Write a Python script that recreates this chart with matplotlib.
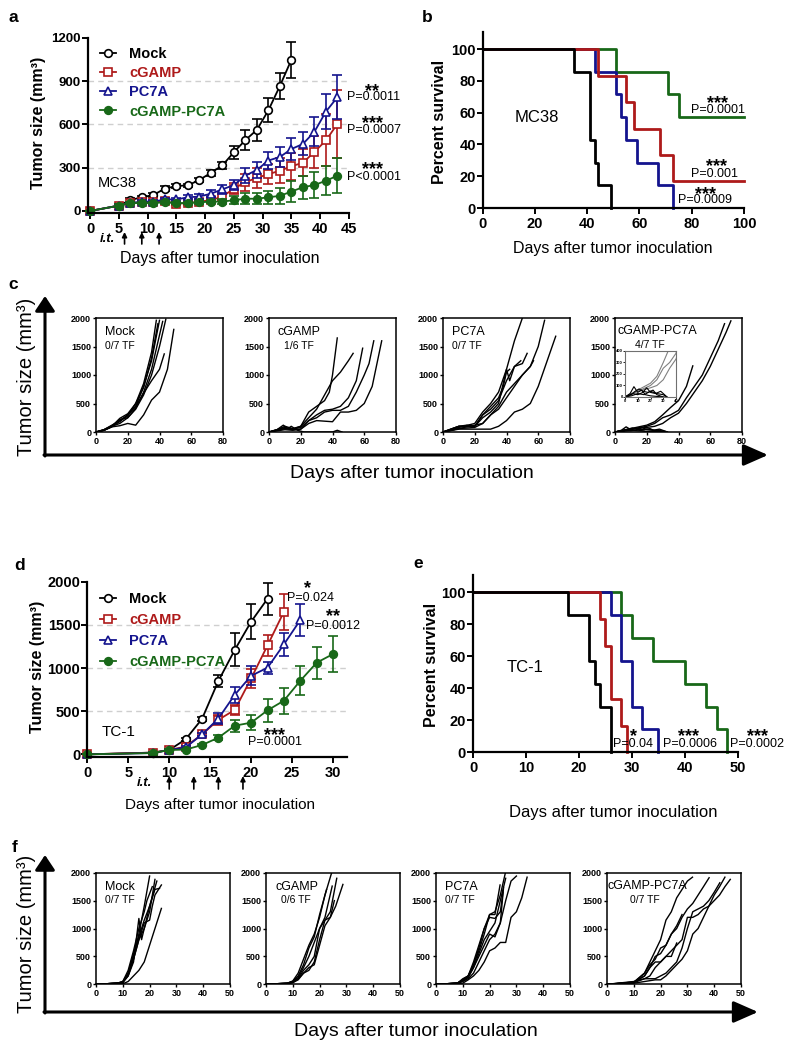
import matplotlib
matplotlib.use('Agg')
import matplotlib.pyplot as plt
from matplotlib.patches import FancyArrowPatch

plt.rcParams['font.family'] = ['Liberation Sans', 'DejaVu Sans']

W, H = 796, 1050
RED = '#AE1A1A'
BLUE = '#14148E'
GREEN = '#186818'

# ---------------- panel a: MC38 mean tumor size ----------------
a_days = [0, 5, 7, 9, 11, 13, 15, 17, 19, 21, 23, 25, 27, 29, 31, 33, 35, 37, 39, 41, 43]
a_mock = [0, 37, 76, 95, 111, 155, 173, 178, 215, 265, 316, 408, 492, 563, 699, 868, 1050]
a_mock_err = [0, 8, 12, 12, 12, 15, 12, 12, 15, 20, 25, 45, 70, 75, 85, 90, 125]
a_cgamp = [0, 37, 55, 60, 60, 70, 50, 55, 65, 75, 100, 155, 200, 230, 255, 280, 310, 335, 410, 490, 605]
a_cgamp_err = [0, 8, 10, 10, 10, 12, 10, 12, 12, 15, 25, 40, 60, 70, 70, 85, 95, 95, 110, 180, 235]
a_pc7a = [0, 37, 55, 65, 65, 80, 80, 95, 100, 120, 150, 180, 245, 285, 350, 375, 430, 465, 550, 690, 790]
a_pc7a_err = [0, 8, 10, 10, 10, 12, 12, 15, 15, 25, 30, 35, 50, 55, 60, 70, 75, 80, 100, 120, 155]
a_combo = [0, 37, 55, 55, 55, 60, 55, 55, 60, 65, 65, 75, 85, 85, 95, 105, 135, 165, 180, 210, 245]
a_combo_err = [0, 8, 8, 8, 8, 10, 10, 10, 10, 12, 15, 30, 40, 40, 45, 55, 70, 80, 90, 100, 120]
a_it_days = [6, 9, 12]

# ---------------- panel b: MC38 survival ----------------
b_mock_t = [0, 35, 41, 43, 44, 49]
b_mock_s = [100, 85.7, 42.9, 28.6, 14.3, 0]
b_cgamp_t = [0, 44, 55, 58, 68, 73, 100]
b_cgamp_s = [100, 83.3, 66.7, 50, 33.3, 16.7, 16.7]
b_pc7a_t = [0, 43, 51, 53, 55, 59, 67, 73]
b_pc7a_s = [100, 85.7, 71.4, 57.1, 42.9, 28.6, 14.3, 0]
b_combo_t = [0, 51, 71, 75, 100]
b_combo_s = [100, 85.7, 71.4, 57.1, 57.1]

# ---------------- panel c: MC38 individual mice ----------------
c_mock = [
    ([0, 5, 10, 15, 20, 25, 30, 35, 38], [0, 40, 110, 200, 280, 500, 850, 1400, 1960]),
    ([0, 5, 10, 15, 20, 25, 30, 35, 40], [0, 30, 100, 180, 300, 450, 800, 1250, 1960]),
    ([0, 5, 10, 15, 20, 25, 30, 35, 40, 42], [0, 30, 90, 220, 250, 420, 700, 1100, 1700, 1940]),
    ([0, 5, 10, 15, 20, 25, 30, 35, 40, 44], [0, 30, 100, 150, 250, 400, 650, 1000, 1500, 1980]),
    ([0, 5, 10, 15, 20, 25, 30, 35, 40, 43], [0, 40, 120, 200, 300, 450, 680, 900, 1100, 1370]),
    ([0, 5, 10, 15, 20, 25, 30, 35, 40, 45, 49], [0, 30, 90, 110, 150, 120, 300, 560, 700, 1100, 1800]),
    ([0, 5, 10, 15, 20, 25, 30, 35, 39], [0, 40, 100, 240, 320, 500, 780, 1300, 1900]),
]
c_cgamp = [
    ([0, 5, 10, 15, 20, 25, 30, 35, 38, 40, 43], [0, 40, 100, 60, 100, 350, 450, 550, 700, 1000, 1650]),
    ([0, 5, 10, 15, 20, 25, 30, 35, 40, 45, 50, 53], [0, 40, 80, 50, 100, 250, 400, 650, 900, 1050, 1250, 1380]),
    ([0, 5, 10, 15, 20, 25, 30, 35, 40, 45, 50, 55, 59], [0, 30, 60, 50, 80, 200, 300, 380, 400, 450, 600, 900, 1470]),
    ([0, 5, 10, 15, 20, 25, 30, 35, 40, 45, 50, 55, 60, 63, 66],
     [0, 30, 60, 40, 50, 200, 250, 350, 380, 380, 450, 700, 1000, 1200, 1600]),
    ([0, 5, 10, 15, 20, 25, 30, 35, 40, 45, 50, 55, 60, 65, 68, 71],
     [0, 20, 40, 30, 50, 150, 200, 190, 180, 350, 350, 380, 500, 800, 1200, 1600]),
    ([0, 5, 9, 12, 14, 18, 22, 40, 43, 46], [0, 40, 120, 60, 100, 30, 0, 0, 30, 0]),
]
c_pc7a = [
    ([0, 10, 20, 25, 30, 35, 40, 45, 50], [0, 80, 150, 350, 500, 700, 1100, 1600, 2000]),
    ([0, 10, 20, 25, 30, 35, 40, 45, 50, 55, 60, 64], [0, 60, 80, 150, 300, 400, 600, 800, 1000, 1150, 1500, 1960]),
    ([0, 10, 20, 30, 35, 40, 45, 50, 55, 60, 65, 71], [0, 50, 50, 50, 100, 200, 350, 400, 500, 800, 1200, 1680]),
    ([0, 10, 20, 25, 30, 35, 40, 45, 50, 53], [0, 100, 100, 300, 400, 550, 900, 1150, 1200, 1380]),
    ([0, 10, 20, 25, 30, 35, 40, 42, 45, 49], [0, 100, 100, 250, 350, 500, 1100, 900, 1150, 1250]),
    ([0, 10, 20, 25, 30, 35, 40, 45, 50, 55, 57], [0, 60, 120, 150, 300, 450, 700, 850, 1000, 1150, 1250]),
    ([0, 10, 15, 20, 25, 30, 35, 38, 40, 42], [0, 100, 120, 100, 300, 450, 600, 800, 1050, 1100]),
]
c_combo = [
    ([0, 10, 20, 25, 30, 35, 40, 45, 50, 55, 60, 65, 69], [0, 50, 100, 150, 250, 300, 380, 600, 800, 1000, 1300, 1600, 1900]),
    ([0, 10, 20, 25, 30, 35, 40, 45, 50, 55, 60, 65, 70, 73],
     [0, 50, 80, 100, 150, 250, 330, 500, 700, 900, 1150, 1450, 1750, 1950]),
    ([0, 10, 20, 25, 30, 35, 40, 45, 49], [0, 60, 120, 180, 300, 430, 550, 800, 1160]),
    ([0, 4, 7, 10, 13, 16, 20, 25, 30, 33], [0, 30, 90, 40, 60, 20, 10, 5, 0, 0]),
    ([0, 5, 8, 11, 14, 18, 22, 25, 30], [0, 20, 50, 70, 50, 40, 60, 20, 0]),
    ([0, 6, 10, 14, 17, 20, 24, 28, 32], [0, 30, 20, 40, 80, 40, 30, 50, 10]),
    ([0, 5, 10, 15, 20, 25, 30, 33], [0, 10, 30, 20, 50, 30, 20, 0]),
]
c_combo_growing = 3  # first three mice grew out, shown grey in the inset

# ---------------- panel d: TC-1 mean tumor size ----------------
d_days = [0, 8, 10, 12, 14, 16, 18, 20, 22, 24, 26, 28, 30]
d_mock = [0, 20, 50, 174, 410, 850, 1210, 1537, 1803]
d_mock_err = [0, 10, 15, 20, 25, 70, 190, 200, 185]
d_cgamp = [0, 20, 50, 90, 230, 400, 515, 880, 1262, 1652]
d_cgamp_err = [0, 10, 15, 15, 20, 55, 60, 110, 120, 210]
d_pc7a = [0, 15, 50, 80, 230, 415, 690, 910, 1004, 1274, 1556]
d_pc7a_err = [0, 10, 15, 15, 20, 60, 90, 110, 70, 130, 180]
d_combo = [0, 15, 50, 55, 108, 193, 332, 367, 510, 622, 853, 1062, 1162]
d_combo_err = [0, 10, 10, 10, 15, 30, 70, 90, 130, 150, 165, 185, 205]
d_it_days = [10, 13, 16, 19]

# ---------------- panel e: TC-1 survival ----------------
e_mock_t = [0, 18, 22, 23, 24, 26]
e_mock_s = [100, 85.7, 57.1, 42.9, 28.6, 0]
e_cgamp_t = [0, 24, 25, 26, 28, 29]
e_cgamp_s = [100, 83.3, 66.7, 33.3, 16.7, 0]
e_pc7a_t = [0, 26, 28, 30, 32, 35]
e_pc7a_s = [100, 85.7, 57.1, 28.6, 14.3, 0]
e_combo_t = [0, 28, 30, 34, 40, 44, 46, 48]
e_combo_s = [100, 85.7, 71.4, 57.1, 42.9, 28.6, 14.3, 0]

# ---------------- panel f: TC-1 individual mice ----------------
f_mock = [
    ([0, 8, 10, 12, 14, 16, 18, 20], [0, 20, 50, 200, 500, 900, 1400, 1940]),
    ([0, 8, 10, 12, 14, 16, 17, 18, 20, 22], [0, 20, 40, 150, 400, 1180, 800, 1000, 1300, 1880]),
    ([0, 8, 10, 12, 14, 16, 18, 20, 21, 22, 24.4], [0, 20, 30, 150, 450, 800, 1100, 1150, 1400, 1600, 1780]),
    ([0, 8, 10, 12, 14, 16, 18, 20, 22, 23.7], [0, 20, 40, 200, 550, 850, 1150, 1400, 1700, 1720]),
    ([0, 8, 10, 12, 14, 16, 18, 20, 22, 24.4], [0, 10, 10, 50, 150, 250, 400, 700, 1000, 1360]),
    ([0, 8, 10, 12, 14, 16, 18, 20, 22.7], [0, 20, 30, 180, 450, 800, 1000, 1400, 1850]),
    ([0, 8, 10, 12, 14, 16, 18, 19, 21], [0, 20, 50, 250, 600, 1000, 1300, 1500, 1750]),
]
f_cgamp = [
    ([0, 8, 10, 12, 14, 16, 18, 20, 22, 24.5], [0, 20, 60, 200, 450, 700, 900, 1200, 1600, 2000]),
    ([0, 8, 10, 12, 14, 16, 18, 20, 22.6], [0, 20, 50, 150, 350, 650, 850, 1250, 1700]),
    ([0, 8, 10, 12, 14, 16, 18, 20, 22, 24, 26.4], [0, 10, 30, 100, 200, 250, 400, 800, 1150, 1300, 1900]),
    ([0, 8, 10, 12, 14, 16, 18, 20, 22, 24, 26, 28.7], [0, 10, 30, 80, 200, 300, 350, 700, 1050, 1200, 1400, 1790]),
    ([0, 8, 10, 12, 14, 16, 18, 20, 22, 24.7], [0, 20, 40, 100, 250, 350, 500, 1000, 1200, 1760]),
    ([0, 8, 10, 12, 14, 16, 18, 20, 22, 24, 25.5], [0, 20, 50, 120, 300, 500, 750, 1000, 1150, 1200, 1500]),
]
f_pc7a = [
    ([0, 8, 10, 12, 14, 16, 18, 20, 22, 24, 25.9], [0, 20, 100, 150, 350, 600, 900, 1250, 1300, 1600, 2000]),
    ([0, 8, 10, 12, 14, 16, 18, 20, 22, 24, 26, 28, 30], [0, 20, 50, 100, 200, 400, 600, 800, 900, 1100, 1500, 1850, 1940]),
    ([0, 10, 12, 14, 16, 18, 20, 22, 24, 26, 28, 30, 32, 34],
     [0, 20, 80, 150, 250, 400, 600, 650, 750, 750, 1200, 1300, 1550, 1920]),
    ([0, 8, 10, 12, 14, 16, 18, 20, 22, 23.9], [0, 20, 80, 150, 350, 650, 1000, 1250, 1250, 1780]),
    ([0, 8, 10, 12, 14, 16, 18, 20, 22, 24, 25.2], [0, 20, 60, 120, 300, 500, 700, 900, 850, 1100, 1730]),
    ([0, 8, 10, 12, 14, 16, 18, 20, 22, 24, 26], [0, 20, 70, 130, 300, 550, 800, 950, 1100, 1500, 1900]),
    ([0, 8, 10, 12, 14, 16, 18, 20, 22, 24, 25], [0, 20, 80, 150, 400, 700, 1000, 1200, 1180, 1300, 1650]),
]
f_combo = [
    ([0, 10, 14, 16, 18, 20, 22, 24, 26, 28, 30, 31.9], [0, 30, 200, 400, 600, 800, 1150, 1300, 1550, 1700, 1850, 1920]),
    ([0, 10, 14, 16, 18, 20, 22, 24, 26, 28, 30, 32, 34, 36, 38.1],
     [0, 40, 150, 300, 500, 550, 700, 900, 1000, 1200, 1350, 1450, 1600, 1750, 1910]),
    ([0, 10, 14, 16, 18, 20, 22, 24, 26, 28, 30, 32, 34, 36, 38, 40, 42, 44],
     [0, 30, 100, 150, 300, 400, 500, 600, 700, 800, 1200, 1200, 1250, 1350, 1400, 1600, 1750, 1920]),
    ([0, 10, 14, 18, 20, 22, 24, 26, 28, 30, 32, 34, 36, 38, 40, 42, 44, 46],
     [0, 20, 50, 80, 80, 150, 250, 350, 450, 600, 900, 1000, 1200, 1400, 1500, 1600, 1750, 1880]),
    ([0, 10, 14, 18, 20, 22, 24, 26, 28, 30, 32, 34, 36, 38, 40, 42.1],
     [0, 50, 100, 100, 150, 200, 300, 400, 650, 1000, 1300, 1350, 1400, 1500, 1650, 1820]),
    ([0, 10, 14, 16, 18, 20, 22, 24, 26], [0, 30, 150, 300, 400, 400, 500, 500, 740]),
    ([0, 10, 14, 16, 18, 20, 22, 24, 26, 28], [0, 40, 200, 350, 450, 650, 700, 900, 1050, 1250]),
]

names = ['Mock', 'cGAMP', 'PC7A', 'cGAMP-PC7A']
colors = ['black', RED, BLUE, GREEN]
markers = ['o', 's', '^', 'o']
faces = ['white', 'white', 'white', GREEN]
c_tf = ['0/7 TF', '1/6 TF', '0/7 TF', '4/7 TF']
f_tf = ['0/7 TF', '0/6 TF', '0/7 TF', '0/7 TF']


def fx(x):
    return x / W


def fy(y):
    return 1 - y / H


fig = plt.figure(figsize=(W / 100, H / 100), dpi=100)


def add_ax(l, t, r, b):
    return fig.add_axes([l / W, 1 - b / H, (r - l) / W, (b - t) / H])


def set_ticks(ax, xt, yt, xfs, yfs):
    ax.set_xticks(list(xt), [str(v) for v in xt], fontweight='bold', fontsize=xfs)
    ax.set_yticks(list(yt), [str(v) for v in yt], fontweight='bold', fontsize=yfs)


def style_main(ax):
    for s in ['top', 'right']:
        ax.spines[s].set_visible(False)
    for s in ['left', 'bottom']:
        ax.spines[s].set_linewidth(1.6)
    ax.tick_params(axis='x', direction='out', length=4.5, width=1.4, pad=2)
    ax.tick_params(axis='y', direction='out', length=4, width=1.4, pad=1)


def growth_panel(ax, days, groups, legend_anchor, spacing):
    for (vals, err), col, mk, fc, lab in zip(groups, colors, markers, faces, names):
        d = days[:len(vals)]
        ax.errorbar(d, vals, yerr=err, fmt='none', ecolor=col, elinewidth=1.2,
                    capsize=3.5, capthick=1.2, clip_on=False)
        ax.plot(d, vals, color=col, marker=mk, mfc=fc, mec=col, ms=5.5, mew=1.2,
                lw=1.3, label=lab, clip_on=False)
    leg = ax.legend(loc='upper left', bbox_to_anchor=legend_anchor, frameon=False,
                    borderpad=0, borderaxespad=0, handlelength=1.1, handletextpad=0.9,
                    labelspacing=spacing, prop={'weight': 'bold', 'size': 10.5})
    for t, c in zip(leg.get_texts(), colors):
        t.set_color(c)


def survival_panel(ax, curves):
    # combo drawn first so the earlier groups sit on top like the original
    for (t, s), col in reversed(list(zip(curves, colors))):
        ax.step(t, s, where='post', color=col, lw=2.0, clip_on=False)


def p_labels(ax, items, star_fs=13, p_fs=9):
    for xs, ys, xp, yp, st, pv in items:
        ax.text(xs, ys, st, fontsize=star_fs, fontweight='bold', ha='center', va='center', clip_on=False)
        ax.text(xp, yp, pv, fontsize=p_fs, va='center', clip_on=False)


def it_arrows(ax, days, y_tip, y_tail):
    for d in days:
        ax.annotate('', xy=(d, fy(y_tip)), xytext=(d, fy(y_tail)),
                    xycoords=('data', 'figure fraction'),
                    textcoords=('data', 'figure fraction'),
                    arrowprops=dict(arrowstyle='-|>', color='k', lw=1.2,
                                    mutation_scale=7, shrinkA=0, shrinkB=0),
                    annotation_clip=False)


def sub_panel(l, t, r, b, curves, xmax, xstep):
    ax = add_ax(l, t, r, b)
    for days, vals in curves:
        ax.plot(days, vals, color='k', lw=1.0)
    ax.set_xlim(0, xmax)
    ax.set_ylim(0, 2000)
    set_ticks(ax, range(0, xmax + 1, xstep), range(0, 2001, 500), 6.5, 6.5)
    for s in ax.spines.values():
        s.set_linewidth(1.1)
    ax.tick_params(direction='out', length=2.5, width=1, pad=1)
    return ax


def big_axes(y_axis, y_top, x_right, head_v, head_h):
    fig.add_artist(FancyArrowPatch(
        posA=(fx(45), fy(y_axis + 1)), posB=(fx(45), fy(y_top)),
        transform=fig.transFigure, arrowstyle='-|>,head_length=%s,head_width=%s' % head_v,
        mutation_scale=12, lw=2.2, color='k', shrinkA=0, shrinkB=0))
    fig.add_artist(FancyArrowPatch(
        posA=(fx(44), fy(y_axis)), posB=(fx(x_right), fy(y_axis)),
        transform=fig.transFigure, arrowstyle='-|>,head_length=%s,head_width=%s' % head_h,
        mutation_scale=12, lw=2.2, color='k', shrinkA=0, shrinkB=0))


def panel_label(x, y, s):
    fig.text(fx(x), fy(y), s, fontsize=12.5, fontweight='bold', ha='center', va='center')


# ================= a =================
ax = add_ax(88, 38, 349, 213)
for yv in [300, 600, 900]:
    ax.axhline(yv, color='#cfcfcf', ls=(0, (4, 3)), lw=1.0, zorder=0)
growth_panel(ax, a_days,
             [(a_mock, a_mock_err), (a_cgamp, a_cgamp_err), (a_pc7a, a_pc7a_err), (a_combo, a_combo_err)],
             (0.046, 0.95), 0.36)
ax.set_xlim(-0.35, 45)
ax.set_ylim(-14, 1200)
set_ticks(ax, range(0, 46, 5), [0, 300, 600, 900, 1200], 10.5, 9.5)
style_main(ax)
ax.text(1.4, 194, 'MC38', fontsize=10.5, va='center')
p_labels(ax, [(49.0, 826, 44.6, 791, '**', 'P=0.0011'),
              (49.0, 604, 44.6, 562, '***', 'P=0.0007'),
              (49.0, 285, 44.6, 236, '***', 'P<0.0001')])
it_arrows(ax, a_it_days, 232, 244)
fig.text(fx(100), fy(239), 'i.t.', fontsize=9.5, fontweight='bold', fontstyle='italic', va='center')
fig.text(fx(220), fy(258), 'Days after tumor inoculation', fontsize=11.5, ha='center', va='center')
fig.text(fx(39), fy(123), 'Tumor size (mm³)', fontsize=11.5, fontweight='bold', rotation=90,
         ha='center', va='center')
panel_label(13, 18, 'a')

# ================= b =================
ax = add_ax(482.7, 32, 744, 208)
survival_panel(ax, [(b_mock_t, b_mock_s), (b_cgamp_t, b_cgamp_s), (b_pc7a_t, b_pc7a_s), (b_combo_t, b_combo_s)])
ax.set_xlim(0, 100)
ax.set_ylim(0, 110.7)
set_ticks(ax, range(0, 101, 20), range(0, 101, 20), 10.5, 10.5)
style_main(ax)
ax.text(20.8, 57.2, 'MC38', fontsize=12, ha='center', va='center')
p_labels(ax, [(89.7, 65.4, 79.7, 61.6, '***', 'P=0.0001'),
              (89.3, 25.8, 79.7, 21.4, '***', 'P=0.001'),
              (85.1, 8.2, 74.7, 5.0, '***', 'P=0.0009')])
fig.text(fx(613), fy(248), 'Days after tumor inoculation', fontsize=11.5, ha='center', va='center')
fig.text(fx(440), fy(122), 'Percent survival', fontsize=11.5, fontweight='bold', rotation=90,
         ha='center', va='center')
panel_label(427, 17, 'b')

# ================= c =================
c_lefts = [96, 269, 443, 615]
for l, curves, nm, tf in zip(c_lefts, [c_mock, c_cgamp, c_pc7a, c_combo], names, c_tf):
    sub_panel(l, 318, l + 127, 432, curves, 80, 20)
    if nm == 'cGAMP-PC7A':
        fig.text(fx(l + 3), fy(331), nm, fontsize=9, va='center')
        fig.text(fx(l + 20), fy(345), tf, fontsize=7.5, va='center')
    else:
        fig.text(fx(l + 9), fy(332), nm, fontsize=9, va='center')
        fig.text(fx(l + 9 + (6 if nm == 'cGAMP' else 0)), fy(346), tf, fontsize=7.5, va='center')
# inset with the tumor-free mice
axi = add_ax(625, 351, 676, 397)
for i, (days, vals) in enumerate(c_combo):
    axi.plot(days, vals, color='#808080' if i < c_combo_growing else 'k', lw=0.8)
axi.set_xlim(0, 40)
axi.set_ylim(0, 400)
set_ticks(axi, range(0, 41, 10), range(0, 401, 100), 3, 3)
for s in axi.spines.values():
    s.set_linewidth(0.8)
    s.set_color('#707070')
axi.tick_params(direction='out', length=1.2, width=0.6, pad=0.5)
big_axes(455, 296, 768, (0.75, 0.5), (1.25, 0.55))
fig.text(fx(412), fy(474), 'Days after tumor inoculation', fontsize=14, ha='center', va='center')
fig.text(fx(27), fy(377), 'Tumor size (mm³)', fontsize=14.5, rotation=90, ha='center', va='center')
panel_label(13, 285, 'c')

# ================= d =================
ax = add_ax(87.3, 581.7, 347, 756.5)
for yv in [500, 1000, 1500]:
    ax.axhline(yv, color='#cfcfcf', ls=(0, (4, 3)), lw=1.0, zorder=0)
growth_panel(ax, d_days,
             [(d_mock, d_mock_err), (d_cgamp, d_cgamp_err), (d_pc7a, d_pc7a_err), (d_combo, d_combo_err)],
             (0.049, 0.943), 0.48)
ax.set_xlim(0, 31.7)
ax.set_ylim(-25, 2000)
set_ticks(ax, range(0, 31, 5), range(0, 2001, 500), 10.5, 10.5)
style_main(ax)
ax.text(1.8, 258, 'TC-1', fontsize=11, va='center')
p_labels(ax, [(26.9, 1915, 24.4, 1811, '*', 'P=0.024'),
              (30.0, 1591, 26.7, 1487, '**', 'P=0.0012'),
              (22.9, 212, 19.6, 143, '***', 'P=0.0001')])
it_arrows(ax, d_it_days, 776, 789)
fig.text(fx(137), fy(783), 'i.t.', fontsize=9.5, fontweight='bold', fontstyle='italic', va='center')
fig.text(fx(220), fy(805), 'Days after tumor inoculation', fontsize=11, ha='center', va='center')
fig.text(fx(38), fy(667), 'Tumor size (mm³)', fontsize=11.5, fontweight='bold', rotation=90,
         ha='center', va='center')
panel_label(20, 565, 'd')

# ================= e =================
ax = add_ax(473, 575, 737.7, 752.3)
survival_panel(ax, [(e_mock_t, e_mock_s), (e_cgamp_t, e_cgamp_s), (e_pc7a_t, e_pc7a_s), (e_combo_t, e_combo_s)])
ax.set_xlim(0, 50)
ax.set_ylim(0, 110.8)
set_ticks(ax, range(0, 51, 10), range(0, 101, 20), 10.5, 10.5)
style_main(ax)
ax.text(9.8, 53.3, 'TC-1', fontsize=12, ha='center', va='center')
p_labels(ax, [(30.3, 9.6, 26.5, 5.2, '*', 'P=0.04'),
              (40.7, 9.6, 35.9, 5.2, '***', 'P=0.0006'),
              (53.7, 9.6, 48.6, 5.2, '***', 'P=0.0002')])
fig.text(fx(613), fy(812), 'Days after tumor inoculation', fontsize=12, ha='center', va='center')
fig.text(fx(432), fy(665), 'Percent survival', fontsize=11.5, fontweight='bold', rotation=90,
         ha='center', va='center')
panel_label(418, 563, 'e')

# ================= f =================
f_lefts = [96, 266, 436, 607]
for l, curves, nm, tf in zip(f_lefts, [f_mock, f_cgamp, f_pc7a, f_combo], names, f_tf):
    sub_panel(l, 872.7, l + 134, 984.3, curves, 50, 10)
    if nm == 'cGAMP-PC7A':
        fig.text(fx(l + 1), fy(886), nm, fontsize=9, va='center')
        fig.text(fx(l + 23), fy(900), tf, fontsize=7.5, va='center')
    else:
        fig.text(fx(l + 9), fy(887), nm, fontsize=9, va='center')
        fig.text(fx(l + 9 + (6 if nm == 'cGAMP' else 0)), fy(900), tf, fontsize=7.5, va='center')
big_axes(1012, 855, 758, (0.75, 0.5), (1.25, 0.55))
fig.text(fx(416), fy(1032), 'Days after tumor inoculation', fontsize=14, ha='center', va='center')
fig.text(fx(27), fy(934), 'Tumor size (mm³)', fontsize=14.5, rotation=90, ha='center', va='center')
panel_label(15, 847, 'f')

fig.savefig('out.png', dpi=100)
